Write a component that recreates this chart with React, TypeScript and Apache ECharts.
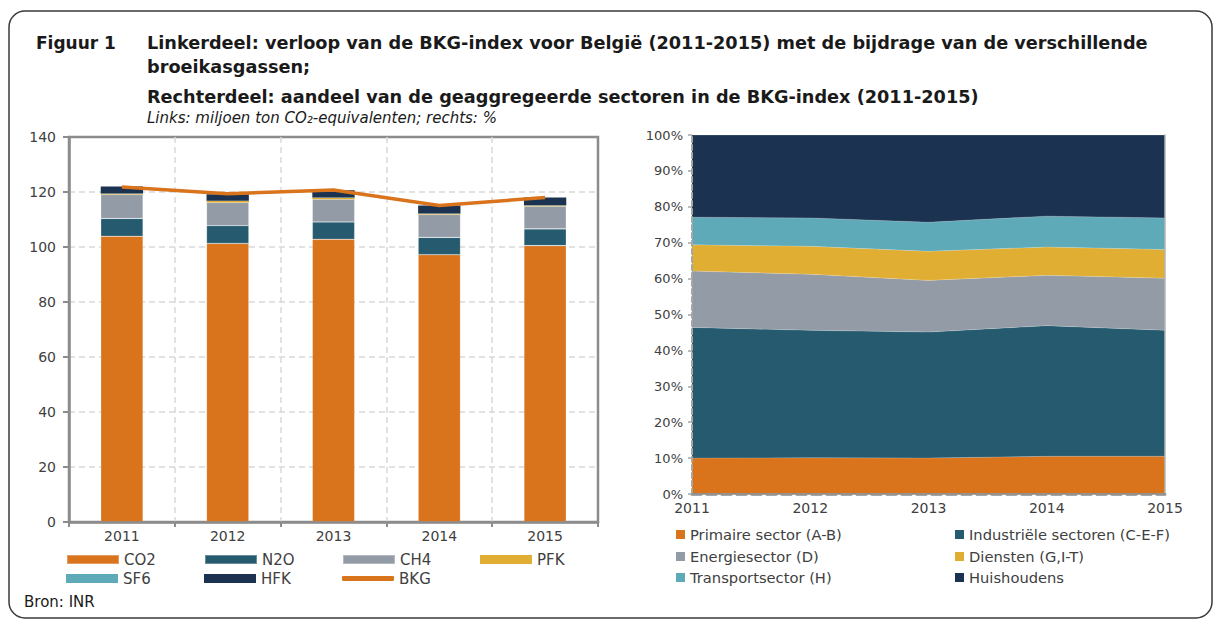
import React, { useEffect, useRef } from "react";
import * as echarts from "echarts";

const years = ["2011", "2012", "2013", "2014", "2015"];

// Left: million ton CO2-eq per gas
const co2 = [103.9, 101.3, 102.8, 97.2, 100.5];
const n2o = [6.5, 6.5, 6.3, 6.3, 6.1];
const ch4 = [8.7, 8.4, 8.3, 8.3, 8.2];
const pfk = [0.3, 0.5, 0.5, 0.3, 0.3];
const sf6 = [0.1, 0.1, 0.1, 0.1, 0.1];
const hfk = [2.5, 2.4, 2.6, 2.9, 2.8];
const bkg = [121.8, 119.4, 120.7, 115.1, 118.0];
const leftTicks = { min: 0, max: 140, interval: 20 };

// Right: share (%) per aggregated sector
const primair = [10.0, 10.1, 10.0, 10.5, 10.5];
const industrie = [36.4, 35.5, 35.1, 36.4, 35.1];
const energie = [15.7, 15.6, 14.4, 14.0, 14.5];
const diensten = [7.3, 7.8, 8.1, 7.9, 8.0];
const transport = [7.7, 7.9, 8.1, 8.6, 8.8];
const huishoudens = [22.9, 23.1, 24.3, 22.6, 23.1];
const rightTicks = { min: 0, max: 100, interval: 10 };

const C_ORANGE = "#D9731C";
const C_TEAL = "#265B6F";
const C_GREY = "#929BA6";
const C_YELLOW = "#E1AE34";
const C_LTEAL = "#5EAAB9";
const C_NAVY = "#1B3350";

const FONT = '"DejaVu Sans", Verdana, sans-serif';
const TXT = "#404040";
const AXIS = "#8c8c8c";

export default function App() {
  const ref = useRef<HTMLDivElement>(null);

  useEffect(() => {
    document.body.style.margin = "0";
    const chart = echarts.init(ref.current!, null, { renderer: "svg" });

    const gasSeries = [
      { name: "CO2", data: co2, color: C_ORANGE, border: true },
      { name: "N2O", data: n2o, color: C_TEAL, border: true },
      { name: "CH4", data: ch4, color: C_GREY, border: true },
      { name: "PFK", data: pfk, color: C_YELLOW, border: false },
      { name: "SF6", data: sf6, color: C_LTEAL, border: false },
      { name: "HFK", data: hfk, color: C_NAVY, border: false },
    ].map((s) => ({
      type: "bar",
      name: s.name,
      stack: "gas",
      xAxisIndex: 0,
      yAxisIndex: 0,
      barWidth: "40%",
      data: s.data,
      itemStyle: s.border
        ? { color: s.color, borderColor: "rgba(255,255,255,0.3)", borderWidth: 0.6 }
        : { color: s.color, borderWidth: 0 },
    }));

    const sectorSeries = [
      { name: "Primaire sector (A-B)", data: primair, color: C_ORANGE },
      { name: "Industriële sectoren (C-E-F)", data: industrie, color: C_TEAL },
      { name: "Energiesector (D)", data: energie, color: C_GREY },
      { name: "Diensten (G,I-T)", data: diensten, color: C_YELLOW },
      { name: "Transportsector (H)", data: transport, color: C_LTEAL },
      { name: "Huishoudens", data: huishoudens, color: C_NAVY },
    ].map((s) => ({
      type: "line",
      name: s.name,
      stack: "sector",
      xAxisIndex: 1,
      yAxisIndex: 1,
      symbol: "none",
      data: s.data,
      lineStyle: { width: 0.8, color: "rgba(255,255,255,0.25)" },
      itemStyle: { color: s.color },
      areaStyle: { color: s.color, opacity: 1 },
    }));

    const legendBase = {
      orient: "horizontal",
      padding: 0,
      selectedMode: false,
      textStyle: { color: TXT, fontSize: 15, fontFamily: FONT },
    };
    const leftLeg = (name: string, left: number, cy: number, icon = "rect", h = 9) => ({
      ...legendBase,
      data: [name],
      left,
      top: cy - 8,
      icon,
      itemWidth: 52,
      itemHeight: h,
    });
    const rightLeg = (name: string, left: number, cy: number) => ({
      ...legendBase,
      textStyle: { color: TXT, fontSize: 14.7, fontFamily: FONT },
      data: [name],
      left,
      top: cy - 8,
      icon: "rect",
      itemWidth: 9,
      itemHeight: 9,
    });

    const dashedGrid = { color: "#d9d9d9", type: [6, 4], width: 1.5 };

    const option = {
      animation: false,
      textStyle: { fontFamily: FONT },
      grid: [
        { left: 69, right: 617, top: 137, bottom: 98, show: true, borderColor: AXIS, borderWidth: 2.5, containLabel: false },
        { left: 692, right: 50, top: 135, bottom: 126, containLabel: false },
      ],
      xAxis: [
        {
          type: "category",
          gridIndex: 0,
          data: years,
          z: 5,
          axisLine: { lineStyle: { color: AXIS, width: 2.5 } },
          axisTick: { show: true, length: 5, lineStyle: { color: AXIS, width: 2 } },
          axisLabel: { color: TXT, fontSize: 14, fontFamily: FONT, margin: 7 },
          splitLine: { show: true, showMinLine: false, showMaxLine: false, lineStyle: dashedGrid },
        },
        {
          type: "category",
          gridIndex: 1,
          data: years,
          boundaryGap: false,
          z: 5,
          axisLine: { lineStyle: { color: "#a6a6a6", width: 3, type: [9, 6] } },
          axisTick: { show: false },
          axisLabel: { color: TXT, fontSize: 14, fontFamily: FONT, margin: 7 },
          splitLine: { show: false },
        },
        {
          type: "category",
          gridIndex: 1,
          data: years,
          boundaryGap: false,
          position: "top",
          z: 5,
          axisLine: { lineStyle: { color: "#8c8c8c", width: 1.5 } },
          axisTick: { show: false },
          axisLabel: { show: false },
          splitLine: { show: false },
        },
      ],
      yAxis: [
        {
          type: "value",
          gridIndex: 0,
          ...leftTicks,
          axisLine: { show: true, lineStyle: { color: AXIS, width: 2.5 } },
          axisTick: { show: true, length: 6, lineStyle: { color: AXIS, width: 2 } },
          axisLabel: { color: TXT, fontSize: 14, fontFamily: FONT, margin: 13 },
          splitLine: { show: true, showMinLine: false, showMaxLine: false, lineStyle: dashedGrid },
        },
        {
          type: "value",
          gridIndex: 1,
          ...rightTicks,
          z: 5,
          axisLine: { show: true, lineStyle: { color: "#a6a6a6", width: 2, type: [5, 3] } },
          axisTick: { show: true, length: 4, lineStyle: { color: "#a6a6a6", width: 1.5 } },
          axisLabel: { color: TXT, fontSize: 13, fontFamily: FONT, margin: 9, formatter: "{value}%" },
          splitLine: { show: false },
        },
        {
          type: "value",
          gridIndex: 1,
          ...rightTicks,
          position: "right",
          z: 5,
          axisLine: { show: true, lineStyle: { color: "#b5b5b5", width: 1.5 } },
          axisTick: { show: false },
          axisLabel: { show: false },
          splitLine: { show: false },
        },
      ],
      legend: [
        leftLeg("CO2", 66, 560),
        leftLeg("N2O", 204, 560),
        leftLeg("CH4", 342, 560),
        leftLeg("PFK", 480, 560),
        leftLeg("SF6", 66, 579),
        leftLeg("HFK", 204, 579),
        leftLeg("BKG", 342, 579, "roundRect", 5),
        rightLeg("Primaire sector (A-B)", 676, 535),
        rightLeg("Industriële sectoren (C-E-F)", 955, 535),
        rightLeg("Energiesector (D)", 676, 557),
        rightLeg("Diensten (G,I-T)", 955, 557),
        rightLeg("Transportsector (H)", 676, 578),
        rightLeg("Huishoudens", 955, 578),
      ],
      series: [
        ...gasSeries,
        {
          type: "line",
          name: "BKG",
          xAxisIndex: 0,
          yAxisIndex: 0,
          data: bkg,
          symbol: "none",
          z: 6,
          lineStyle: { color: C_ORANGE, width: 3.5 },
          itemStyle: { color: C_ORANGE },
        },
        ...sectorSeries,
      ],
      graphic: [
        {
          type: "rect",
          shape: { x: 9, y: 11, width: 1203, height: 607, r: 16 },
          style: { fill: "none", stroke: "#3a3a3a", lineWidth: 1.5 },
          silent: true,
          z: -10,
        },
        {
          type: "text",
          x: 36,
          y: 43,
          style: { text: "Figuur 1", font: `bold 17px ${FONT}`, fill: "#1a1a1a", verticalAlign: "middle" },
        },
        {
          type: "text",
          x: 147,
          y: 43,
          style: {
            text: "Linkerdeel: verloop van de BKG-index voor België (2011-2015) met de bijdrage van de verschillende",
            font: `bold 17.7px ${FONT}`,
            fill: "#1a1a1a",
            verticalAlign: "middle",
          },
        },
        {
          type: "text",
          x: 147,
          y: 67,
          style: { text: "broeikasgassen;", font: `bold 17.7px ${FONT}`, fill: "#1a1a1a", verticalAlign: "middle" },
        },
        {
          type: "text",
          x: 147,
          y: 97,
          style: {
            text: "Rechterdeel: aandeel van de geaggregeerde sectoren in de BKG-index (2011-2015)",
            font: `bold 17.7px ${FONT}`,
            fill: "#1a1a1a",
            verticalAlign: "middle",
          },
        },
        {
          type: "text",
          x: 147,
          y: 118,
          style: {
            text: "Links: miljoen ton CO₂-equivalenten; rechts: %",
            font: `italic 15px ${FONT}`,
            fill: "#1a1a1a",
            verticalAlign: "middle",
          },
        },
        {
          type: "text",
          x: 24,
          y: 602,
          style: { text: "Bron: INR", font: `15px ${FONT}`, fill: "#1a1a1a", verticalAlign: "middle" },
        },
      ],
    };

    chart.setOption(option as any);
    return () => chart.dispose();
  }, []);

  return <div ref={ref} style={{ width: 1215, height: 620, overflow: "hidden" }} />;
}
